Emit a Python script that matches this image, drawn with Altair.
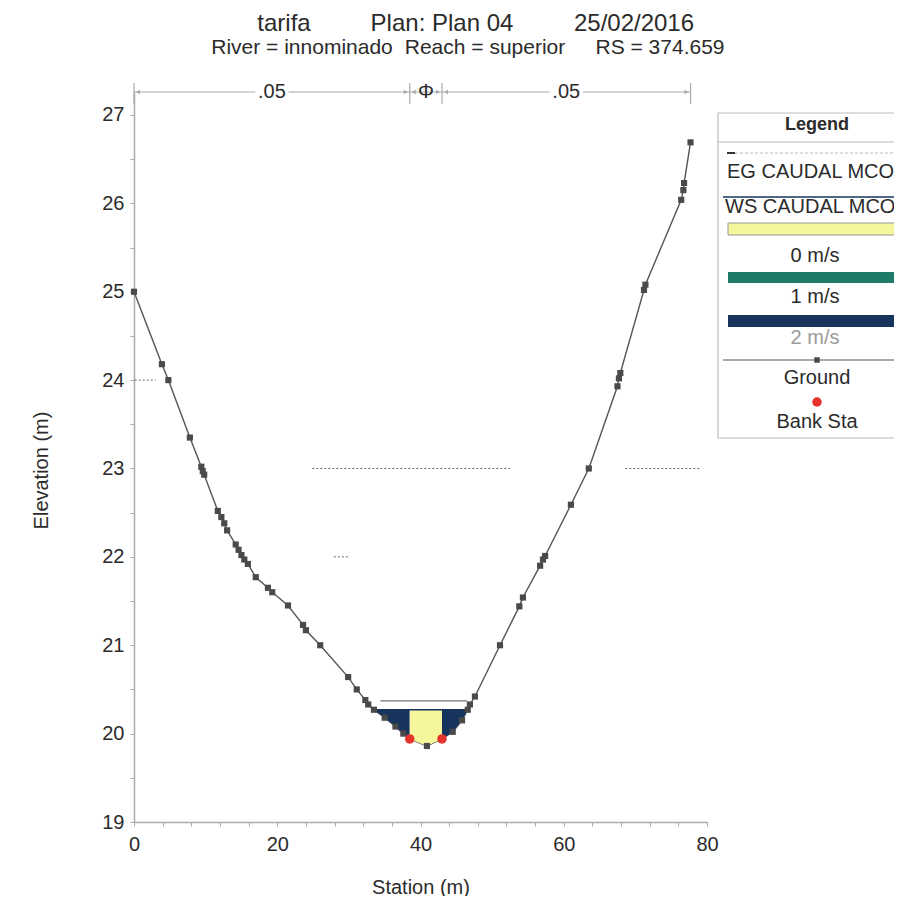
import altair as alt
import pandas as pd

FONT = "Liberation Sans"

# ---------------- data ----------------
station = [0.0, 3.9, 4.8, 7.8, 9.4, 9.6, 9.8, 11.7, 12.2, 12.6, 13.0, 14.2, 14.6, 15.0,
           15.4, 15.9, 17.0, 18.7, 19.3, 21.5, 23.6, 24.0, 26.0, 29.9, 31.1, 32.3, 32.7,
           33.5, 35.0, 36.5, 37.6, 38.5, 40.9, 43.0, 44.5, 45.8, 46.6, 46.9, 47.6, 51.1,
           53.8, 54.3, 56.7, 57.1, 57.4, 61.0, 63.5, 67.5, 67.7, 67.9, 71.2, 71.4, 76.4,
           76.7, 76.8, 77.7]
elevation = [25.00, 24.18, 24.00, 23.35, 23.02, 22.97, 22.93, 22.52, 22.45, 22.38, 22.30,
             22.14, 22.08, 22.02, 21.97, 21.92, 21.77, 21.65, 21.60, 21.45, 21.23, 21.17,
             21.00, 20.64, 20.50, 20.38, 20.33, 20.27, 20.18, 20.08, 20.00, 19.94, 19.86,
             19.94, 20.02, 20.15, 20.27, 20.33, 20.42, 21.00, 21.44, 21.54, 21.90, 21.97,
             22.01, 22.59, 23.00, 23.93, 24.02, 24.08, 25.02, 25.08, 26.04, 26.15, 26.23,
             26.69]
bank_sta = [38.5, 43.0]
ws_elev = 20.27
ws_edges = [33.5, 46.6]
eg_elev = 20.37
eg_extent = [34.4, 46.5]
n_breaks = [0.0, 38.5, 43.0, 77.7]
n_labels = [".05", "Φ", ".05"]
stray_y = [24.0, 23.0, 23.0, 22.0]
stray_x1 = [0.1, 24.9, 68.6, 27.9]
stray_x2 = [3.0, 52.5, 79.0, 30.0]
x_ticks = list(range(0, 81, 4))
y_ticks = [19 + 0.5 * i for i in range(17)]

# colours
NAVY = "#16345c"
GREEN = "#1f7a6a"
YELLOW = "#f6f79c"
RED = "#e5322b"
GROUND = "#4a4a4a"
TXT = "#2b2b2b"

# ---------------- tables ----------------
gdf = pd.DataFrame({"station": station, "elev": elevation})


def seg(lo, hi, name):
    d = gdf[(gdf.station >= lo) & (gdf.station <= hi)].copy()
    d["seg"] = name
    d["ws"] = ws_elev
    return d


fill = pd.concat([seg(ws_edges[0], bank_sta[0], "L"),
                  seg(bank_sta[0], bank_sta[1], "C"),
                  seg(bank_sta[1], ws_edges[1], "R")])
banks = gdf[gdf.station.isin(bank_sta)]
ws_df = pd.DataFrame({"x1": [ws_edges[0]], "x2": [ws_edges[1]], "y": [ws_elev]})
eg_df = pd.DataFrame({"x1": [eg_extent[0]], "x2": [eg_extent[1]], "y": [eg_elev]})
nb_df = pd.DataFrame({"b": n_breaks})
nseg = pd.DataFrame({"x1": n_breaks[:-1], "x2": n_breaks[1:], "label": n_labels})
nseg["mid"] = (nseg.x1 + nseg.x2) / 2
stray = pd.DataFrame({"y": stray_y, "x1": stray_x1, "x2": stray_x2})
one = pd.DataFrame({"k": [0]})

xs = alt.Scale(domain=[0, 80], nice=False, zero=False)
ys = alt.Scale(domain=[19, 27.26], nice=False, zero=False)

x_axis = alt.Axis(values=x_ticks, labelExpr="datum.value % 20 == 0 ? format(datum.value, 'd') : ''",
                  title="Station (m)", grid=False, tickSize=4, labelPadding=8, labelFlush=False,
                  titleY=65, titleBaseline="middle")
y_axis = alt.Axis(values=y_ticks, labelExpr="datum.value % 1 == 0 ? format(datum.value, 'd') : ''",
                  title="Elevation (m)", grid=False, tickSize=4, labelPadding=6, labelFlush=False,
                  titleX=-93, titleY=378, titleAngle=270, titleAlign="center",
                  titleBaseline="middle")


def X(f):
    return alt.X(f, type="quantitative", scale=xs, axis=x_axis)


def Y(f):
    return alt.Y(f, type="quantitative", scale=ys, axis=y_axis, stack=None)


# ---------------- data layers ----------------
ground_line = alt.Chart(gdf).mark_line(color="#555555", strokeWidth=1.4).encode(
    x=X("station"), y=Y("elev"))
ground_pts = alt.Chart(gdf).mark_point(shape="square", filled=True, color=GROUND, size=38,
                                       opacity=1).encode(x=X("station"), y=Y("elev"))
area = alt.Chart(fill).mark_area(opacity=1).encode(
    x=X("station"), y=Y("elev"), y2="ws",
    color=alt.Color("seg:N", scale=alt.Scale(domain=["L", "C", "R"], range=[NAVY, YELLOW, NAVY]),
                    legend=None))
ws_line = alt.Chart(ws_df).mark_rule(color=NAVY, strokeWidth=1.5).encode(
    x=X("x1"), x2="x2", y=Y("y"))
eg_line = alt.Chart(eg_df).mark_rule(color="#777777", strokeWidth=1.2).encode(
    x=X("x1"), x2="x2", y=Y("y"))
bank_pts = alt.Chart(banks).mark_circle(color=RED, size=90, opacity=1).encode(
    x=X("station"), y=Y("elev"))
stray_lines = alt.Chart(stray).mark_rule(color="#666666", strokeWidth=1, strokeDash=[2, 2]).encode(
    x=X("x1"), x2="x2", y=Y("y"))

# Manning's n bar at top
n_line = alt.Chart(nseg).mark_rule(color="#aaaaaa", strokeWidth=1.2).encode(
    x=X("x1"), x2="x2", y=alt.value(0))
n_ticks = alt.Chart(nb_df).mark_rule(color="#aaaaaa", strokeWidth=1.2).encode(
    x=X("b"), y=alt.value(-9), y2=alt.value(12))
n_arrow_l = alt.Chart(nseg).mark_point(shape="triangle-left", filled=True, color="#aaaaaa",
                                       size=22, opacity=1).encode(
    x=X("x1"), y=alt.value(0), xOffset=alt.value(4))
n_arrow_r = alt.Chart(nseg).mark_point(shape="triangle-right", filled=True, color="#aaaaaa",
                                       size=22, opacity=1).encode(
    x=X("x2"), y=alt.value(0), xOffset=alt.value(-4))
n_bg = alt.Chart(nseg[nseg.label != "Φ"]).mark_point(shape="square", filled=True, color="white",
                                                     size=1100, opacity=1).encode(
    x=X("mid"), y=alt.value(0))
n_text = alt.Chart(nseg).mark_text(font=FONT, fontSize=20, color=TXT, baseline="middle").encode(
    x=X("mid"), y=alt.value(0), text="label:N")


# ---------------- decoration helpers ----------------
def txt(text, x, y, size=20, weight="normal", color=TXT, align="center"):
    return alt.Chart(one).mark_text(text=text, font=FONT, fontSize=size, fontWeight=weight,
                                    color=color, align=align, baseline="middle").encode(
        x=alt.value(x), y=alt.value(y))


def rect(x, x2, y, y2, fill, stroke=None, sw=1):
    kw = dict(fill=fill, opacity=1)
    if stroke:
        kw.update(stroke=stroke, strokeWidth=sw)
    return alt.Chart(one).mark_rect(**kw).encode(
        x=alt.value(x), x2=alt.value(x2), y=alt.value(y), y2=alt.value(y2))


def hline(x, x2, y, color, sw=1, dash=None):
    kw = dict(color=color, strokeWidth=sw)
    if dash:
        kw["strokeDash"] = dash
    return alt.Chart(one).mark_rule(**kw).encode(
        x=alt.value(x), x2=alt.value(x2), y=alt.value(y))


def dot(x, y, shape, color, size):
    return alt.Chart(one).mark_point(shape=shape, filled=True, color=color, size=size,
                                     opacity=1).encode(x=alt.value(x), y=alt.value(y))


titles = [
    txt("tarifa", 150, -68, size=24),
    txt("Plan: Plan 04", 308, -68, size=24),
    txt("25/02/2016", 500, -68, size=24),
    txt("River = innominado", 168, -44, size=21),
    txt("Reach = superior", 351, -44, size=21),
    txt("RS = 374.659", 526, -44, size=21),
]

legend = [
    rect(584, 820, 21, 346, "white", "#bbbbbb", 1.2),
    txt("Legend", 683, 33, size=18, weight="bold"),
    hline(584, 820, 50, "#bbbbbb", 1),
    hline(593, 601, 61, "#333333", 2),
    hline(601, 820, 61, "#bbbbbb", 1, [3, 2]),
    txt("EG CAUDAL MCO", 593, 80, align="left"),
    hline(589, 820, 105, NAVY, 1.5),
    txt("WS CAUDAL MCO", 591, 115, align="left"),
    rect(594, 820, 131, 143, YELLOW, "#999999", 1),
    txt("0 m/s", 681, 164),
    rect(594, 820, 180, 191, GREEN),
    txt("1 m/s", 681, 205),
    rect(594, 820, 223, 235, NAVY),
    txt("2 m/s", 681, 246, color="#9a9a9a"),
    hline(589, 820, 268, "#555555", 1.2),
    dot(683, 268, "square", GROUND, 30),
    txt("Ground", 683, 286),
    dot(683, 310, "circle", RED, 90),
    txt("Bank Sta", 683, 330),
]

chart = alt.layer(
    ground_line, stray_lines, area, ws_line, eg_line, ground_pts, bank_pts,
    n_line, n_ticks, n_bg, n_arrow_l, n_arrow_r, n_text,
    *titles, *legend,
).properties(
    width=573, height=730,
    autosize=alt.AutoSizeParams(type="none"),
    padding={"left": 126, "top": 84, "right": 187, "bottom": 74},
    background="white",
).configure_view(stroke=None).configure_axis(
    labelFont=FONT, titleFont=FONT, labelFontSize=20, titleFontSize=20,
    labelColor=TXT, titleColor=TXT, titleFontWeight="normal",
    domainColor="#aaaaaa", tickColor="#aaaaaa", domainWidth=1.5,
)

chart.save("out.html", embed_options={"renderer": "svg", "actions": False})
